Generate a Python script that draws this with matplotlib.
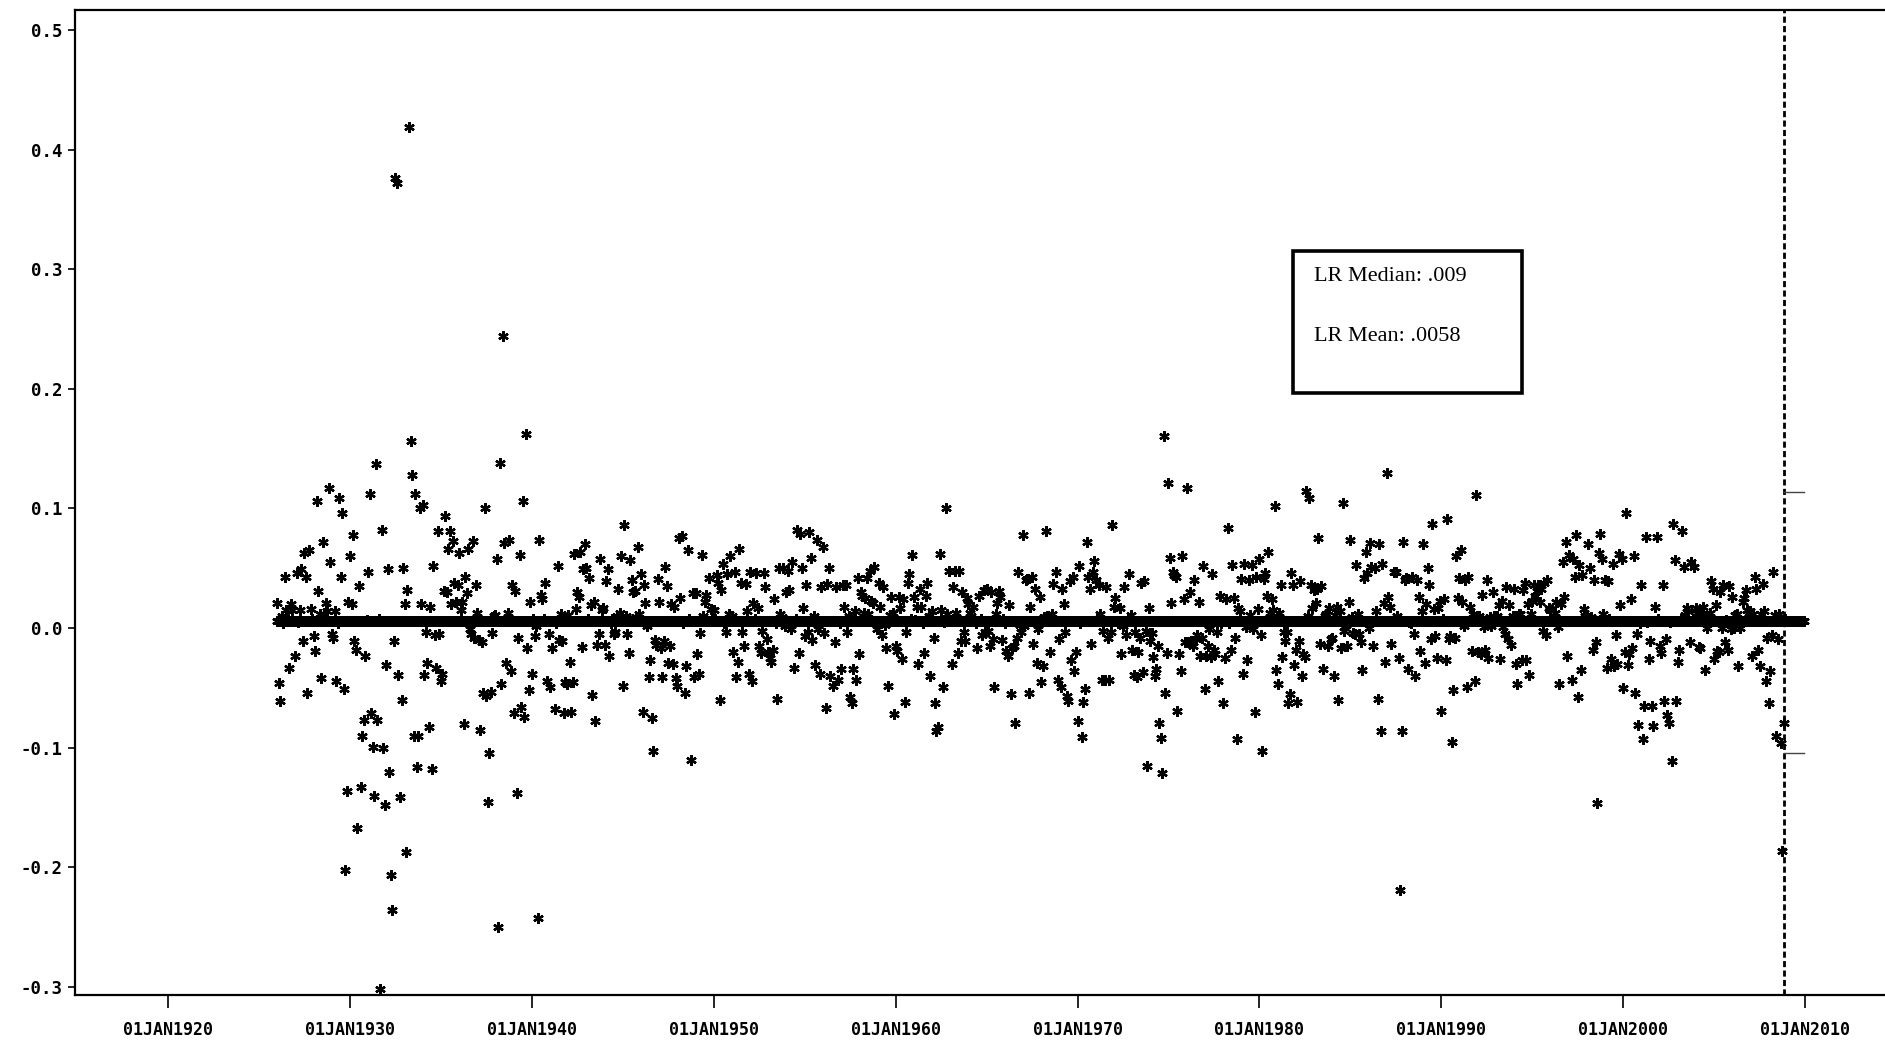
#monthly log returns with the long-run mean
import numpy as np
import pandas as pd
import matplotlib
matplotlib.use('Agg')
import matplotlib.pyplot as plt
from matplotlib.patches import Rectangle

#monthly log returns, Jan 1926 .. Dec 2008, one row = one year
lr_1920s = [
    0.021, -0.046, -0.061, 0.010, 0.004, 0.043, 0.015, 0.008, -0.033, 0.020, 0.015, 0.006,
    -0.023, 0.046, 0.005, 0.015, 0.049, -0.011, 0.063, 0.043, -0.054, 0.065, 0.016, 0.008,
    -0.007, -0.019, 0.106, 0.031, 0.012, -0.042, 0.072, 0.012, 0.021, 0.014, 0.117, 0.055,
    -0.005, -0.008, 0.014, -0.044, 0.004, 0.109, 0.043, 0.096, -0.051, -0.202, -0.136, 0.022,
]
lr_1930s = [
    0.060, 0.020, 0.078, -0.011, -0.018, -0.167, 0.035, -0.133, -0.090, -0.077, -0.023, 0.007,
    0.047, 0.112, -0.071, -0.099, -0.140, 0.137, -0.077, 0.008, -0.302, 0.082, -0.100, -0.148,
    -0.031, 0.049, -0.120, -0.206, -0.236, -0.011, 0.376, 0.372, -0.039, -0.141, -0.060, 0.050,
    0.020, -0.187, 0.032, 0.419, 0.156, 0.128, -0.090, 0.112, -0.116, -0.090, 0.100, 0.020,
    0.103, -0.039, -0.003, -0.029, -0.083, 0.018, -0.118, 0.052, -0.006, -0.033, 0.081, -0.005,
    -0.044, -0.038, 0.031, 0.094, 0.030, 0.066, 0.081, 0.020, 0.073, 0.038, 0.022, 0.036,
    0.063, 0.015, 0.022, -0.080, 0.043, 0.029, 0.066, -0.001, -0.005, 0.073, -0.008, 0.036,
    0.013, -0.010, -0.085, -0.012, -0.054, 0.100, -0.057, -0.145, -0.104, -0.053, -0.004, 0.010,
    0.011, 0.058, -0.250, 0.138, -0.047, 0.244, 0.071, -0.029, 0.013, 0.074, -0.036, 0.036,
    -0.071, 0.031, -0.138, -0.008, 0.061, -0.066, 0.106, -0.074, 0.162, -0.017, -0.052, 0.022,
]
lr_1940s = [
    -0.038, 0.008, -0.007, 0.002, -0.242, 0.074, 0.028, 0.024, 0.008, 0.038, -0.044, -0.005,
    -0.049, -0.017, 0.006, -0.068, 0.004, 0.052, -0.010, 0.012, -0.011, -0.071, -0.045, -0.047,
    0.011, -0.028, -0.070, -0.045, 0.062, 0.016, 0.030, 0.026, 0.064, -0.016, 0.049, 0.070,
    0.050, 0.008, 0.042, 0.019, -0.056, 0.022, -0.078, -0.014, -0.005, 0.058, 0.015, 0.017,
    -0.014, 0.039, 0.049, -0.023, 0.004, 0.008, -0.005, -0.003, 0.010, 0.033, 0.013, 0.060,
    -0.048, 0.086, 0.010, -0.005, -0.021, 0.057, 0.040, 0.030, 0.031, 0.009, 0.068, 0.012,
    0.045, -0.070, 0.036, 0.021, 0.002, -0.041, -0.027, -0.075, -0.103, -0.010, -0.014, 0.041,
    0.022, -0.017, -0.041, -0.011, 0.051, 0.035, -0.029, -0.015, 0.020, -0.030, 0.018, -0.042,
    -0.048, 0.075, 0.025, 0.077, 0.004, -0.054, -0.032, 0.065, 0.008, -0.110, 0.029, -0.041,
    0.029, -0.022, -0.038, -0.004, 0.061, 0.010, 0.022, 0.028, 0.006, 0.042, 0.016, 0.008,
]
lr_1950s = [
    0.015, 0.008, 0.044, 0.038, -0.060, 0.032, 0.054, 0.004, -0.003, 0.045, 0.012, 0.060,
    0.010, -0.020, 0.047, -0.041, -0.028, 0.066, 0.038, -0.003, -0.015, 0.037, 0.014, -0.038,
    0.047, -0.044, 0.021, 0.008, 0.046, 0.017, -0.015, -0.021, -0.002, 0.046, 0.034, -0.009,
    -0.020, -0.025, -0.028, -0.018, 0.024, 0.004, -0.059, 0.050, 0.012, 0.009, 0.050, 0.002,
    0.030, 0.048, 0.032, -0.001, 0.055, -0.033, 0.008, 0.082, -0.021, 0.079, 0.050, 0.017,
    -0.007, 0.036, -0.003, 0.080, 0.059, -0.010, 0.010, -0.031, 0.074, -0.001, -0.038, 0.034,
    0.068, -0.004, -0.067, 0.037, 0.050, -0.040, 0.006, -0.048, -0.012, 0.034, -0.043, 0.004,
    -0.034, 0.036, 0.018, 0.036, -0.003, 0.010, -0.058, -0.063, -0.034, 0.014, -0.043, 0.042,
    -0.022, 0.030, 0.027, 0.013, 0.025, 0.042, 0.012, 0.048, 0.023, 0.021, 0.051, 0.005,
    -0.001, 0.038, 0.018, -0.006, 0.034, 0.003, -0.017, -0.048, 0.011, 0.026, 0.013, -0.072,
]
lr_1960s = [
    -0.015, -0.019, 0.026, 0.017, -0.026, 0.024, -0.062, -0.003, 0.038, 0.045, 0.008, 0.061,
    0.026, 0.007, 0.018, -0.030, 0.033, 0.018, 0.004, -0.021, 0.027, 0.038, 0.010, -0.040,
    0.014, -0.008, -0.063, -0.086, -0.083, 0.062, 0.015, -0.049, 0.005, 0.100, 0.012, 0.048,
    0.006, -0.030, 0.034, 0.048, 0.013, -0.021, 0.048, -0.011, 0.030, -0.003, -0.011, 0.025,
    0.020, 0.013, 0.010, 0.018, 0.006, 0.004, -0.017, 0.027, 0.008, -0.006, 0.032, -0.003,
    0.033, -0.002, -0.015, 0.030, -0.009, -0.049, 0.012, 0.021, 0.031, 0.026, -0.010, 0.008,
    0.004, -0.019, -0.023, 0.019, -0.055, -0.017, -0.015, -0.079, -0.008, 0.047, 0.003, -0.003,
    0.078, 0.002, 0.040, 0.041, -0.054, 0.018, 0.043, -0.013, 0.033, -0.029, -0.001, 0.026,
    -0.045, -0.032, 0.009, 0.081, 0.010, 0.007, -0.020, 0.012, 0.037, 0.006, 0.047, -0.043,
    -0.009, -0.049, 0.033, 0.020, -0.003, -0.057, -0.061, 0.039, -0.027, 0.043, -0.036, -0.020,
]
lr_1970s = [
    -0.078, 0.052, 0.004, -0.091, -0.062, -0.051, 0.072, 0.043, 0.033, -0.013, 0.047, 0.056,
    0.040, 0.008, 0.036, 0.012, -0.043, -0.002, -0.043, 0.034, -0.008, -0.043, -0.003, 0.086,
    0.018, 0.025, 0.006, 0.004, 0.017, -0.022, 0.002, 0.034, -0.006, 0.008, 0.045, 0.011,
    -0.018, -0.039, -0.003, -0.041, -0.020, -0.008, 0.038, -0.037, 0.039, -0.002, -0.115, 0.017,
    -0.011, -0.004, -0.024, -0.040, -0.034, -0.015, -0.079, -0.092, -0.121, 0.161, -0.054, -0.021,
    0.121, 0.059, 0.021, 0.047, 0.044, 0.043, -0.069, -0.022, -0.036, 0.060, 0.024, -0.012,
    0.117, -0.012, 0.030, -0.011, -0.015, 0.040, -0.009, -0.006, 0.022, -0.023, -0.008, 0.052,
    -0.051, -0.023, -0.015, -0.001, -0.024, 0.045, -0.018, -0.022, -0.003, -0.044, 0.027, 0.004,
    -0.063, -0.025, 0.024, 0.084, 0.004, -0.018, 0.053, 0.025, -0.008, -0.093, 0.017, 0.014,
    0.041, -0.038, 0.054, 0.001, -0.027, 0.040, 0.011, 0.053, -0.001, -0.070, 0.043, 0.016,
]
lr_1980s = [
    0.058, -0.006, -0.103, 0.041, 0.046, 0.027, 0.064, 0.013, 0.024, 0.015, 0.102, -0.035,
    -0.047, 0.013, 0.036, -0.024, -0.003, -0.011, -0.003, -0.063, -0.055, 0.046, 0.036, -0.031,
    -0.018, -0.062, -0.011, 0.039, -0.040, -0.022, -0.024, 0.115, 0.010, 0.109, 0.036, 0.017,
    0.032, 0.021, 0.033, 0.075, -0.013, 0.035, -0.034, 0.010, 0.012, -0.015, 0.017, -0.009,
    -0.008, -0.040, 0.011, 0.018, -0.060, 0.014, -0.017, 0.105, -0.002, 0.003, -0.015, 0.022,
    0.074, 0.009, -0.004, -0.005, 0.053, 0.012, -0.005, -0.012, -0.035, 0.042, 0.064, 0.046,
    0.000, 0.071, 0.051, -0.015, 0.050, 0.014, -0.059, 0.070, -0.086, 0.054, 0.021, -0.028,
    0.130, 0.026, 0.018, -0.013, 0.006, 0.047, 0.047, 0.010, -0.025, -0.219, -0.086, 0.072,
    0.040, 0.042, -0.034, 0.005, 0.004, 0.043, -0.005, -0.040, 0.040, 0.026, -0.019, 0.014,
    0.070, -0.029, 0.020, 0.050, 0.036, -0.009, 0.087, 0.016, -0.007, -0.025, 0.017, 0.023,
]
lr_1990s = [
    -0.069, 0.008, 0.024, -0.027, 0.091, -0.009, -0.007, -0.095, -0.052, -0.008, 0.060, 0.025,
    0.042, 0.065, 0.022, 0.002, 0.040, -0.049, 0.043, 0.018, -0.019, 0.012, -0.044, 0.111,
    -0.020, 0.010, -0.022, 0.028, 0.001, -0.018, 0.040, -0.025, 0.009, 0.002, 0.030, 0.010,
    0.007, 0.010, 0.019, -0.026, 0.023, 0.001, -0.005, 0.034, -0.009, 0.019, -0.014, 0.010,
    0.033, -0.030, -0.047, 0.012, 0.012, -0.027, 0.032, 0.038, -0.027, 0.020, -0.039, 0.012,
    0.023, 0.036, 0.027, 0.031, 0.036, 0.022, 0.033, -0.002, 0.038, -0.006, 0.040, 0.017,
    0.015, 0.007, 0.008, 0.013, 0.022, 0.001, -0.047, 0.020, 0.055, 0.026, 0.072, -0.023,
    0.061, 0.006, -0.043, 0.058, 0.043, 0.078, -0.058, 0.053, -0.035, 0.044, 0.016, 0.010,
    0.009, 0.070, 0.050, 0.009, -0.018, 0.040, -0.012, -0.146, 0.063, 0.079, 0.058, 0.012,
    0.040, -0.033, 0.039, 0.008, -0.026, 0.054, -0.032, -0.006, -0.030, 0.062, 0.019, 0.058,
]
lr_2000s = [
    -0.050, -0.020, 0.096, -0.031, -0.022, 0.024, -0.017, 0.060, -0.054, -0.005, -0.081, 0.004,
    0.036, -0.093, -0.065, 0.076, 0.005, -0.026, -0.011, -0.065, -0.082, 0.018, 0.076, 0.008,
    -0.015, -0.021, 0.036, -0.061, -0.009, -0.073, -0.079, 0.005, -0.111, 0.087, 0.057, -0.061,
    -0.028, -0.018, 0.008, 0.081, 0.051, 0.011, 0.017, 0.014, -0.012, 0.055, 0.007, 0.051,
    0.017, 0.013, -0.016, -0.017, 0.012, 0.018, -0.035, 0.000, 0.009, 0.013, 0.039, 0.033,
    -0.026, 0.019, -0.019, -0.020, 0.030, 0.000, 0.036, -0.012, 0.007, -0.018, 0.035, -0.001,
    0.026, 0.000, 0.011, 0.012, -0.032, 0.000, 0.005, 0.022, 0.025, 0.032, 0.015, 0.013,
    0.014, -0.023, 0.012, 0.043, 0.033, -0.018, -0.032, 0.012, 0.037, 0.014, -0.044, -0.008,
    -0.063, -0.036, -0.006, 0.047, 0.011, -0.090, -0.009, 0.012, -0.096, -0.186, -0.079, 0.008,
]

lr_mean = 0.0058
lr_median = 0.009
band_upper = 0.114
band_lower = -0.104
forecast_start = '2008-11-01'
forecast_end = '2009-12-01'

year_ticks = [1920, 1930, 1940, 1950, 1960, 1970, 1980, 1990, 2000, 2010]
y_ticks = [-0.3, -0.2, -0.1, 0.0, 0.1, 0.2, 0.3, 0.4, 0.5]


def log_return_plot():

    returns = lr_1920s + lr_1930s + lr_1940s + lr_1950s + lr_1960s + lr_1970s + lr_1980s + lr_1990s + lr_2000s
    df = pd.DataFrame({'lr': returns},
                      index=pd.date_range('1926-01-01', periods=len(returns), freq='MS'))
    mean_dates = pd.date_range('1926-01-01', forecast_end, freq='MS')

    fig = plt.figure(figsize=(18.85, 10.42), dpi=100)
    ax = fig.add_axes([0.0398, 0.0451, 0.9602, 0.9453])

    star = dict(marker=(6, 2, 0), markersize=7.5, markeredgewidth=1.7,
                color='black', linestyle='none')

    #mean line made of the same stars, runs into the forecast year
    ax.plot(mean_dates, np.full(len(mean_dates), lr_mean), **star)
    #monthly log returns
    ax.plot(df.index, df['lr'], **star)

    #forecast origin and the +/- band for the next year
    ax.axvline(pd.Timestamp(forecast_start), color='black', lw=2.0, linestyle=(0, (2.2, 1.2)))
    for lvl in (band_upper, band_lower):
        ax.plot([pd.Timestamp(forecast_start), pd.Timestamp(forecast_end)], [lvl, lvl],
                color='#444444', lw=1.0)

    ax.set_xlim(pd.Timestamp('1914-11-20'), pd.Timestamp('2014-05-25'))
    ax.set_ylim(-0.3067, 0.5167)

    xt = [pd.Timestamp(f'{y}-01-01') for y in year_ticks]
    ax.set_xticks(xt)
    ax.set_xticklabels([t.strftime('%d%b%Y').upper() for t in xt],
                       fontfamily='DejaVu Sans Mono', fontweight='bold', fontsize=12)
    ax.set_yticks(y_ticks)
    ax.set_yticklabels([f'{v:.1f}' for v in y_ticks],
                       fontfamily='DejaVu Sans Mono', fontweight='bold', fontsize=12.5)
    ax.tick_params(axis='x', direction='out', length=9, width=1.2, pad=10)
    ax.tick_params(axis='y', direction='out', length=5, width=1.2, pad=4)

    for side in ('left', 'top', 'bottom'):
        ax.spines[side].set_linewidth(1.6)
    ax.spines['right'].set_visible(False)

    #text box with the summary numbers
    fig.patches.append(Rectangle((0.686, 0.6228), 0.1215, 0.1363, transform=fig.transFigure,
                                 fill=False, edgecolor='black', lw=2.6))
    fig.text(0.697, 0.735, f'LR Median: {lr_median:.3f}'.replace('0.', '.', 1),
             fontfamily='Liberation Serif', fontsize=16, va='center')
    fig.text(0.697, 0.6766, f'LR Mean: {lr_mean:.4f}'.replace('0.', '.', 1),
             fontfamily='Liberation Serif', fontsize=16, va='center')

    fig.savefig('out.png', dpi=100)


if __name__ == "__main__":
    log_return_plot()
